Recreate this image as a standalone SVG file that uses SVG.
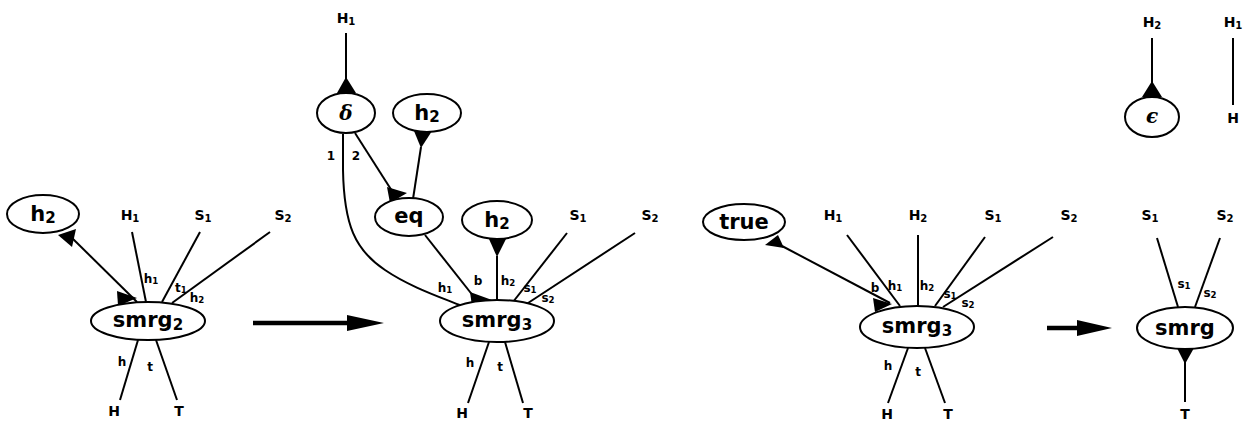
<svg xmlns="http://www.w3.org/2000/svg" width="1252" height="425" viewBox="0 0 1252 425">
<style>
.nd ellipse{fill:#fff;stroke:#000;stroke-width:2}
.nl{font-family:"DejaVu Sans",sans-serif;font-weight:bold;font-size:21px;text-anchor:middle}
.gr{font-family:"DejaVu Serif","Liberation Serif",serif;font-style:italic;font-weight:bold;font-size:20px;text-anchor:middle}
.tl{font-family:"DejaVu Sans",sans-serif;font-weight:bold;font-size:14px;text-anchor:middle}
.pl{font-family:"DejaVu Sans",sans-serif;font-weight:bold;font-size:12px;text-anchor:middle}
.sb{font-size:0.72em}
#edges line,#edges path{stroke:#000;stroke-width:2;fill:none}
#edges polygon{fill:#000}
.big line{stroke:#000;stroke-width:4.5}
.big polygon{fill:#000}
</style>
<rect width="1252" height="425" fill="#fff"/>

<g id="edges">
  <!-- diagram 1 -->
  <line x1="70" y1="236" x2="137" y2="302"/>
  <polygon points="58,235 76,229 72,247"/>
  <polygon points="117,291 137,298 118,306"/>
  <line x1="132" y1="232" x2="146" y2="302"/>
  <line x1="200" y1="232" x2="162" y2="302"/>
  <line x1="270" y1="232" x2="172" y2="303"/>
  <line x1="138" y1="340" x2="120" y2="400"/>
  <line x1="156" y1="340" x2="177" y2="400"/>
  <!-- diagram 2 -->
  <line x1="346" y1="33" x2="346" y2="82"/>
  <polygon points="337,93 346,77 356,93"/>
  <polygon points="414,131 432,131 421,148"/>
  <line x1="421" y1="147" x2="413" y2="199"/>
  <line x1="355" y1="133" x2="392" y2="191"/>
  <polygon points="387,187 407,193 390,203"/>
  <path d="M343,134 L343,170 C344,225 355,250 385,270 C410,287 440,297 462,306"/>
  <line x1="425" y1="235" x2="474" y2="297"/>
  <polygon points="470,292 492,300 472,306"/>
  <polygon points="489,239 506,239 497,257"/>
  <line x1="497" y1="256" x2="497" y2="300"/>
  <line x1="567" y1="233" x2="513" y2="302"/>
  <line x1="635" y1="233" x2="525" y2="305"/>
  <line x1="489" y1="342" x2="468" y2="403"/>
  <line x1="505" y1="342" x2="523" y2="403"/>
  <!-- diagram 3 -->
  <line x1="782" y1="246" x2="890" y2="303"/>
  <polygon points="765,245 778,235 784,248"/>
  <polygon points="873,298 892,304 875,312"/>
  <line x1="847" y1="235" x2="900" y2="306"/>
  <line x1="918" y1="235" x2="918" y2="306"/>
  <line x1="985" y1="237" x2="935" y2="306"/>
  <line x1="1053" y1="237" x2="943" y2="307"/>
  <line x1="908" y1="348" x2="888" y2="403"/>
  <line x1="925" y1="348" x2="945" y2="403"/>
  <!-- diagram 4 -->
  <line x1="1157" y1="238" x2="1178" y2="307"/>
  <line x1="1220" y1="238" x2="1195" y2="307"/>
  <polygon points="1177,348 1194,348 1185,364"/>
  <line x1="1185" y1="362" x2="1185" y2="402"/>
  <!-- top right -->
  <line x1="1152" y1="38" x2="1152" y2="86"/>
  <polygon points="1142,97 1152,81 1162,97"/>
  <line x1="1233" y1="38" x2="1233" y2="105"/>
</g>

<g id="arrows" class="big">
  <line x1="253" y1="323" x2="350" y2="323"/>
  <polygon points="347,315 384,323 347,331"/>
  <line x1="1047" y1="328" x2="1080" y2="328"/>
  <polygon points="1077,320 1112,328 1077,336"/>
</g>

<!-- diagram 1 nodes -->
<g id="n1-h2" class="nd"><ellipse cx="43" cy="214" rx="36" ry="19"/><text class="nl" x="43" y="221">h<tspan class="sb" dy="2">2</tspan></text></g>
<g id="n1-smrg2" class="nd"><ellipse cx="148" cy="321" rx="57" ry="19"/><text class="nl" x="148" y="327">smrg<tspan class="sb" dy="3">2</tspan></text></g>
<g id="d1-labels">
  <text class="tl" x="130" y="220">H<tspan class="sb" dy="2">1</tspan></text>
  <text class="tl" x="203" y="220">S<tspan class="sb" dy="2">1</tspan></text>
  <text class="tl" x="283" y="220">S<tspan class="sb" dy="2">2</tspan></text>
  <text class="pl" x="151" y="283">h<tspan class="sb" dy="1">1</tspan></text>
  <text class="pl" x="181" y="292">t<tspan class="sb" dy="1">1</tspan></text>
  <text class="pl" x="197" y="302">h<tspan class="sb" dy="1">2</tspan></text>
  <text class="pl" x="122" y="366">h</text>
  <text class="pl" x="150" y="371">t</text>
  <text class="tl" x="114" y="416">H</text>
  <text class="tl" x="179" y="416">T</text>
</g>

<!-- diagram 2 nodes -->
<g id="n2-delta" class="nd"><ellipse cx="346" cy="113" rx="29" ry="20"/><text class="gr" x="346" y="120">δ</text></g>
<g id="n2-h2a" class="nd"><ellipse cx="427" cy="113" rx="34" ry="19"/><text class="nl" x="427" y="120">h<tspan class="sb" dy="2">2</tspan></text></g>
<g id="n2-eq" class="nd"><ellipse cx="409" cy="217" rx="34" ry="19"/><text class="nl" x="409" y="223">eq</text></g>
<g id="n2-h2b" class="nd"><ellipse cx="497" cy="220" rx="35" ry="19"/><text class="nl" x="497" y="227">h<tspan class="sb" dy="2">2</tspan></text></g>
<g id="n2-smrg3" class="nd"><ellipse cx="497" cy="321" rx="57" ry="21"/><text class="nl" x="497" y="327">smrg<tspan class="sb" dy="3">3</tspan></text></g>
<g id="d2-labels">
  <text class="tl" x="346" y="23">H<tspan class="sb" dy="2">1</tspan></text>
  <text class="pl" x="331" y="160">1</text>
  <text class="pl" x="356" y="160">2</text>
  <text class="tl" x="578" y="220">S<tspan class="sb" dy="2">1</tspan></text>
  <text class="tl" x="650" y="220">S<tspan class="sb" dy="2">2</tspan></text>
  <text class="pl" x="445" y="292">h<tspan class="sb" dy="1">1</tspan></text>
  <text class="pl" x="478" y="285">b</text>
  <text class="pl" x="508" y="285">h<tspan class="sb" dy="1">2</tspan></text>
  <text class="pl" x="530" y="292">s<tspan class="sb" dy="1">1</tspan></text>
  <text class="pl" x="548" y="302">s<tspan class="sb" dy="1">2</tspan></text>
  <text class="pl" x="470" y="367">h</text>
  <text class="pl" x="500" y="371">t</text>
  <text class="tl" x="462" y="418">H</text>
  <text class="tl" x="528" y="418">T</text>
</g>

<!-- diagram 3 nodes -->
<g id="n3-true" class="nd"><ellipse cx="744" cy="222" rx="41" ry="18"/><text class="nl" x="744" y="229">true</text></g>
<g id="n3-smrg3" class="nd"><ellipse cx="917" cy="327" rx="57" ry="21"/><text class="nl" x="917" y="333">smrg<tspan class="sb" dy="3">3</tspan></text></g>
<g id="d3-labels">
  <text class="tl" x="833" y="220">H<tspan class="sb" dy="2">1</tspan></text>
  <text class="tl" x="918" y="220">H<tspan class="sb" dy="2">2</tspan></text>
  <text class="tl" x="993" y="220">S<tspan class="sb" dy="2">1</tspan></text>
  <text class="tl" x="1069" y="220">S<tspan class="sb" dy="2">2</tspan></text>
  <text class="pl" x="875" y="292">b</text>
  <text class="pl" x="895" y="290">h<tspan class="sb" dy="1">1</tspan></text>
  <text class="pl" x="927" y="290">h<tspan class="sb" dy="1">2</tspan></text>
  <text class="pl" x="950" y="298">s<tspan class="sb" dy="1">1</tspan></text>
  <text class="pl" x="968" y="307">s<tspan class="sb" dy="1">2</tspan></text>
  <text class="pl" x="888" y="370">h</text>
  <text class="pl" x="918" y="376">t</text>
  <text class="tl" x="887" y="419">H</text>
  <text class="tl" x="948" y="419">T</text>
</g>

<!-- diagram 4 nodes -->
<g id="n4-smrg" class="nd"><ellipse cx="1185" cy="328" rx="48" ry="21"/><text class="nl" x="1185" y="335">smrg</text></g>
<g id="d4-labels">
  <text class="tl" x="1150" y="220">S<tspan class="sb" dy="2">1</tspan></text>
  <text class="tl" x="1225" y="220">S<tspan class="sb" dy="2">2</tspan></text>
  <text class="pl" x="1184" y="288">s<tspan class="sb" dy="1">1</tspan></text>
  <text class="pl" x="1210" y="297">s<tspan class="sb" dy="1">2</tspan></text>
  <text class="tl" x="1185" y="419">T</text>
</g>

<!-- top right -->
<g id="n5-eps" class="nd"><ellipse cx="1152" cy="117" rx="27" ry="20"/><text class="gr" x="1152" y="123" font-size="17">ϵ</text></g>
<g id="d5-labels">
  <text class="tl" x="1152" y="27">H<tspan class="sb" dy="2">2</tspan></text>
  <text class="tl" x="1233" y="27">H<tspan class="sb" dy="2">1</tspan></text>
  <text class="tl" x="1233" y="123">H</text>
</g>
</svg>
